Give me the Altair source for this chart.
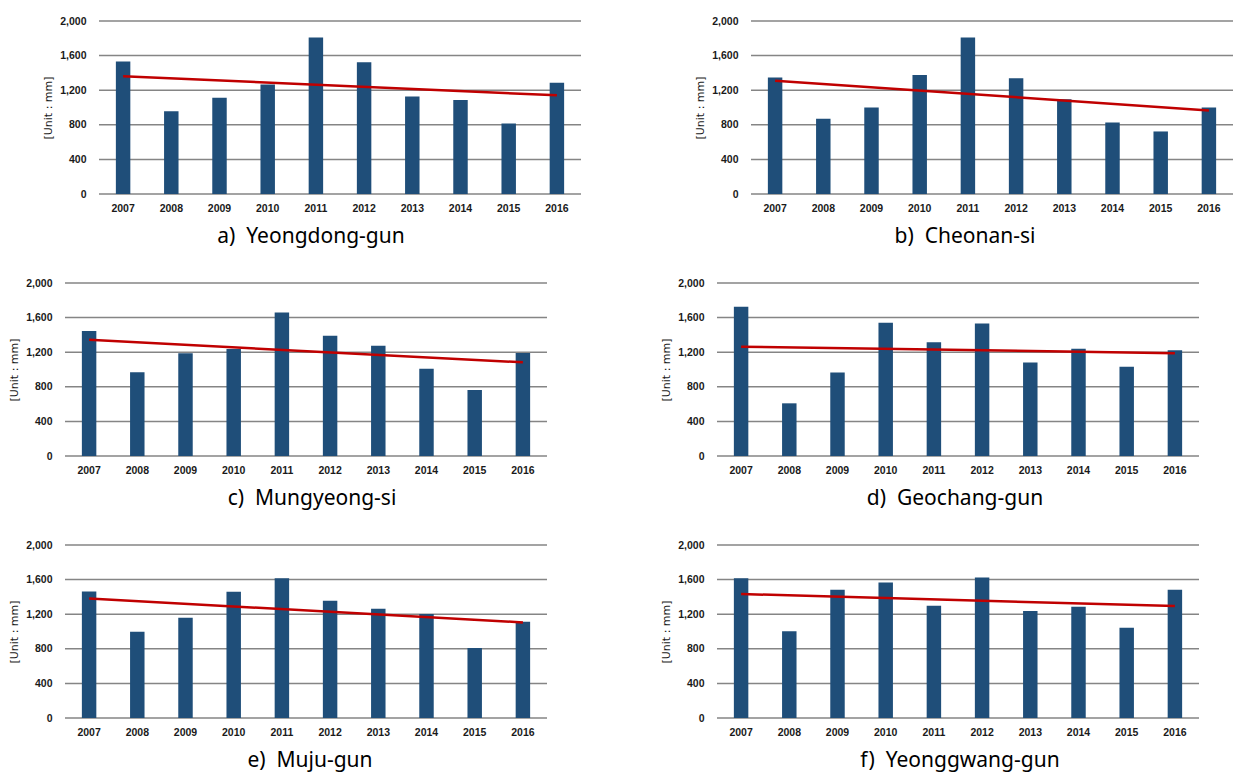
import altair as alt
import pandas as pd

years = [2007, 2008, 2009, 2010, 2011, 2012, 2013, 2014, 2015, 2016]

yeongdong = [1531, 958, 1112, 1265, 1808, 1523, 1127, 1088, 815, 1285]
cheonan = [1346, 869, 1000, 1377, 1808, 1338, 1096, 827, 723, 1000]
mungyeong = [1444, 969, 1188, 1238, 1659, 1391, 1276, 1008, 762, 1192]
geochang = [1724, 609, 966, 1540, 1314, 1533, 1080, 1241, 1031, 1222]
muju = [1463, 998, 1159, 1459, 1616, 1355, 1263, 1202, 810, 1113]
yeonggwang = [1616, 1002, 1482, 1566, 1297, 1624, 1236, 1286, 1044, 1482]

captions = [
    "a)\u00a0 Yeongdong-gun",
    "b)\u00a0 Cheonan-si",
    "c)\u00a0 Mungyeong-si",
    "d)\u00a0 Geochang-gun",
    "e)\u00a0 Muju-gun",
    "f)\u00a0 Yeonggwang-gun",
]
y_ticks = [0, 400, 800, 1200, 1600, 2000]

BAR = "#1F4E79"
RED = "#C00000"
GRID = "#858585"
W, H = 482, 173


def panel(values, caption, dx, shift=0):
    df = pd.DataFrame({"year": years, "mm": values})
    grid_df = pd.DataFrame({"mm": y_ticks})
    base = alt.Chart(df)
    x = alt.X(
        "year:O",
        scale=alt.Scale(paddingInner=0.7, paddingOuter=0.35, range=[shift, W + shift]),
        axis=alt.Axis(title=None, labelAngle=0, grid=False),
    )
    y = alt.Y(
        "mm:Q",
        scale=alt.Scale(domain=[0, 2000], nice=False, zero=True),
        axis=alt.Axis(values=y_ticks, format=",d", title="[Unit : mm]", grid=False, offset=-shift),
    )
    grid = (
        alt.Chart(grid_df)
        .mark_rule(color=GRID, strokeWidth=1.5)
        .encode(x=alt.value(shift), x2=alt.value(W + shift), y=y)
    )
    bars = base.mark_bar(color=BAR).encode(x=x, y=y)
    trend = (
        base.transform_regression("year", "mm")
        .mark_line(color=RED, strokeWidth=2.5)
        .encode(x=x, y=y)
    )
    return alt.layer(grid, bars, trend).properties(
        width=W + shift,
        height=H,
        title=alt.TitleParams(caption, orient="bottom", anchor="middle", dx=dx),
    )


pa = panel(yeongdong, captions[0], -12, shift=34)
pb = panel(cheonan, captions[1], -10, shift=34)
pc = panel(mungyeong, captions[2], 6)
pd_ = panel(geochang, captions[3], -3)
pe = panel(muju, captions[4], 4)
pf = panel(yeonggwang, captions[5], 2)

chart = (
    alt.concat(
        pa, pb, pc, pd_, pe, pf,
        columns=2,
        align="each",
        spacing=alt.RowColnumber(row=31, column=78),
    )
    .properties(padding={"left": 8, "top": 16, "right": 5, "bottom": 5})
    .configure_view(stroke=None)
    .configure_axis(
        domain=False,
        ticks=False,
        tickSize=0,
        labelFont="Liberation Sans",
        labelFontWeight="bold",
        labelFontSize=10.5,
        labelColor="#1a1a1a",
        titleFont="DejaVu Sans",
        titleFontWeight="normal",
        titleFontSize=11,
        titleColor="#1a1a1a",
    )
    .configure_axisX(labelPadding=9)
    .configure_axisY(labelPadding=13, titlePadding=6)
    .configure_title(font="Noto Sans", fontSize=21, fontWeight="normal", color="black", offset=12)
)

chart.save("out.html", embed_options={"renderer": "svg", "actions": False})
